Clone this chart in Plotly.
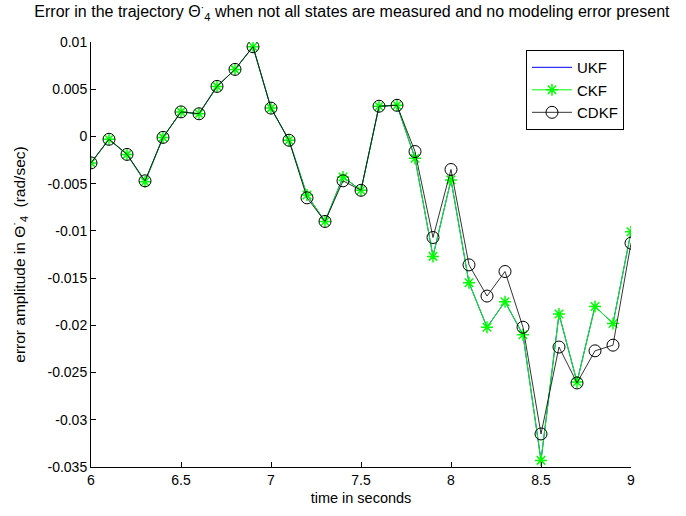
import plotly.graph_objects as go

time_s = [6.0, 6.1, 6.2, 6.3, 6.4, 6.5, 6.6, 6.7, 6.8, 6.9,
          7.0, 7.1, 7.2, 7.3, 7.4, 7.5, 7.6, 7.7, 7.8, 7.9,
          8.0, 8.1, 8.2, 8.3, 8.4, 8.5, 8.6, 8.7, 8.8, 8.9, 9.0]

ckf = [-0.0028, -0.0003, -0.0019, -0.0048, -0.0001, 0.0026, 0.0024, 0.0053, 0.0071, 0.0095,
       0.0030, -0.0004, -0.0062, -0.0090, -0.0043, -0.0057, 0.0032, 0.0033, -0.0023, -0.0127,
       -0.0046, -0.0155, -0.0202, -0.0175, -0.0210, -0.0343, -0.0188, -0.0260, -0.0180, -0.0198, -0.0101]

ukf = list(ckf)

cdkf = [-0.0028, -0.0003, -0.0019, -0.0047, -0.0001, 0.0026, 0.0024, 0.0053, 0.0071, 0.0095,
        0.0030, -0.0004, -0.0065, -0.0090, -0.0047, -0.0057, 0.0032, 0.0033, -0.0016, -0.0107,
        -0.0035, -0.0136, -0.0169, -0.0143, -0.0202, -0.0315, -0.0223, -0.0261, -0.0227, -0.0221, -0.0113]

x_ticks = [6, 6.5, 7, 7.5, 8, 8.5, 9]
x_ticktext = ["6", "6.5", "7", "7.5", "8", "8.5", "9"]
y_ticks = [0.01, 0.005, 0, -0.005, -0.01, -0.015, -0.02, -0.025, -0.03, -0.035]
y_ticktext = ["0.01", "0.005", "0", "-0.005", "-0.01", "-0.015", "-0.02", "-0.025", "-0.03", "-0.035"]

fig = go.Figure()
fig.add_trace(go.Scatter(x=time_s, y=ukf, name="UKF", mode="lines",
                         line=dict(color="#0000ff", width=1)))
fig.add_trace(go.Scatter(x=time_s, y=ckf, name="CKF", mode="lines+markers",
                         line=dict(color="#00ff00", width=1),
                         marker=dict(symbol="asterisk-open", size=10,
                                     line=dict(color="#00ff00", width=1.5))))
fig.add_trace(go.Scatter(x=time_s, y=cdkf, name="CDKF", mode="lines+markers",
                         line=dict(color="#000000", width=0.8),
                         marker=dict(symbol="circle-open", size=12,
                                     line=dict(color="#000000", width=1))))

font = "Liberation Sans, Arial, sans-serif"
fig.update_layout(
    width=686, height=516,
    margin=dict(l=91, r=55, t=42, b=49, autoexpand=False),
    paper_bgcolor="white", plot_bgcolor="white",
    font=dict(family=font, size=14, color="black"),
    title=dict(text="Error in the trajectory Θ<sup>·</sup><sub>4</sub> when not all states are measured and no modeling error present",
               x=0.513, xanchor="center", y=0.988, yanchor="top",
               font=dict(size=16)),
    showlegend=True,
    legend=dict(x=0.987, xanchor="right", y=0.981, yanchor="top",
                bordercolor="black", borderwidth=1, bgcolor="white",
                font=dict(size=15), tracegroupgap=0, itemwidth=40),
    xaxis=dict(range=[6, 9], tickvals=x_ticks, ticktext=x_ticktext, automargin=False,
               showgrid=False, zeroline=False, showline=True, linecolor="black", linewidth=1,
               ticks="inside", ticklen=5, tickcolor="black",
               title=dict(text="time in seconds", standoff=6, font=dict(size=14.5))),
    yaxis=dict(range=[-0.035, 0.01], tickvals=y_ticks, ticktext=y_ticktext, automargin=False,
               showgrid=False, zeroline=False, showline=True, linecolor="black", linewidth=1,
               ticks="inside", ticklen=5, tickcolor="black",
               title=dict(text="error amplitude in Θ<sup>·</sup><sub>4</sub>  (rad/sec)", standoff=18, font=dict(size=15.5))),
)

fig.write_html("out.html", config={"displayModeBar": False},
               post_script="document.body.style.margin='0';document.body.style.padding='0';")
